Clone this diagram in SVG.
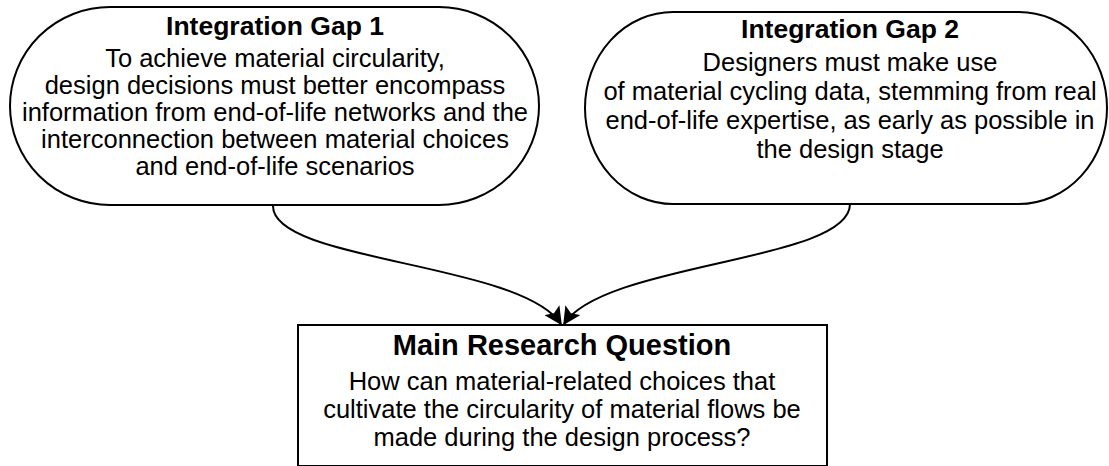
<svg xmlns="http://www.w3.org/2000/svg" width="1109" height="466" viewBox="0 0 1109 466">
<style>
.shape{fill:#fff;stroke:#000;stroke-width:2}
.conn{fill:none;stroke:#000;stroke-width:2}
text{font-family:"Liberation Sans",Arial,sans-serif;fill:#000;text-anchor:middle}
.t{font-weight:bold;font-size:26.5px}
.b{font-size:25.5px}
.mt{font-weight:bold;font-size:29px}
</style>
<defs>
<marker id="arr" viewBox="0 0 12 12" refX="11" refY="6" markerWidth="18" markerHeight="18" markerUnits="userSpaceOnUse" orient="auto">
<path d="M0,0 L12,6 L0,12 L2.5,6 Z" fill="#000"/>
</marker>
</defs>
<rect width="1109" height="466" fill="#fff"/>
<g id="connectors">
<path class="conn" d="M273,206 C273,262 520,262 561,324" marker-end="url(#arr)"/>
<path class="conn" d="M850,204 C850,262 604,262 564,324" marker-end="url(#arr)"/>
</g>
<g id="gap1">
<rect class="shape" x="10" y="7" width="529" height="198" rx="100" ry="99"/>
<text class="t" x="275" y="35">Integration Gap 1</text>
<text class="b" x="275" y="67">To achieve material circularity,</text>
<text class="b" x="275" y="94">design decisions must better encompass</text>
<text class="b" x="275" y="121">information from end-of-life networks and the</text>
<text class="b" x="275" y="148">interconnection between material choices</text>
<text class="b" x="275" y="175">and end-of-life scenarios</text>
</g>
<g id="gap2">
<rect class="shape" x="585" y="12" width="522" height="192" rx="88" ry="96"/>
<text class="t" x="850" y="38">Integration Gap 2</text>
<text class="b" x="850" y="71">Designers must make use</text>
<text class="b" x="850" y="100">of material cycling data, stemming from real</text>
<text class="b" x="850" y="129">end-of-life expertise, as early as possible in</text>
<text class="b" x="850" y="158">the design stage</text>
</g>
<g id="main">
<rect class="shape" x="298" y="325" width="529" height="141"/>
<text class="mt" x="562" y="355">Main Research Question</text>
<text class="b" x="562" y="390">How can material-related choices that</text>
<text class="b" x="562" y="418">cultivate the circularity of material flows be</text>
<text class="b" x="562" y="446">made during the design process?</text>
</g>
</svg>
